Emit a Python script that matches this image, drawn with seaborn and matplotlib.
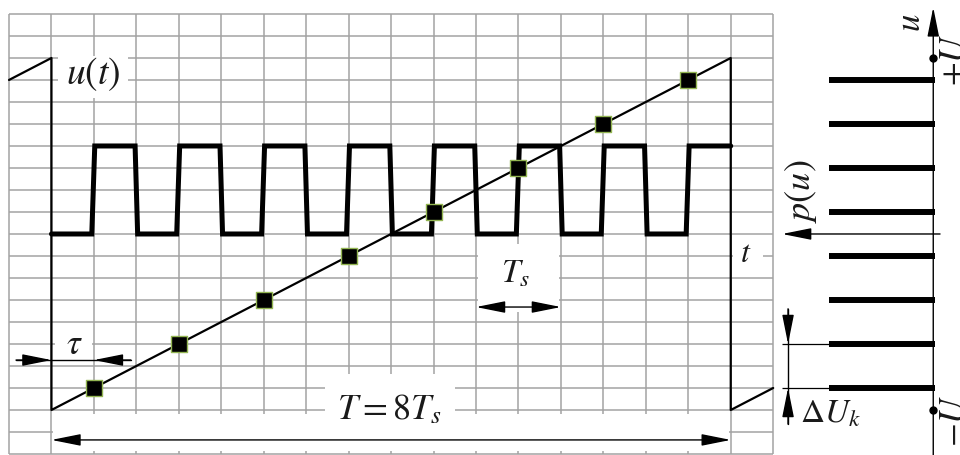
import numpy as np
import matplotlib
matplotlib.use("Agg")
import matplotlib.pyplot as plt
from matplotlib.patches import Rectangle
import seaborn as sns

# --- data (grid units: x = columns of the time grid, y = rows of the level grid) ---
# sawtooth u(t): one period T = 8 Ts plus stubs of the neighbouring periods
ramp_t = [0, 1, 1, 17, 17, 18]
ramp_u = [17, 18, 2, 18, 2, 3]

# sampling instants and the sampled values of u(t)
sample_t = [2, 4, 6, 8, 10, 12, 14, 16]
sample_u = [3, 5, 7, 9, 11, 13, 15, 17]

# clock pulses (start of each pulse), low / high level
pulse_start = [2, 4, 6, 8, 10, 12, 14, 16]
pulse_width = 1
clock_low = 10
clock_high = 14

# quantisation levels and their probability p(u)
levels = [3, 5, 7, 9, 11, 13, 15, 17]
p_levels = [1 / 8] * 8
u_min = 2
u_max = 18

# --- style ---
sns.set_style("white")
plt.rcParams["mathtext.fontset"] = "stix"
plt.rcParams["font.family"] = ["STIXGeneral", "DejaVu Serif"]

GRID_COLOR = "#a3a3a3"
TEXT_COLOR = "#1a1a1a"

fig = plt.figure(figsize=(9.6, 4.56), dpi=100)
ax = fig.add_axes([0, 0, 1, 1])
ax.set_xlim(-0.212, 22.40)
ax.set_ylim(-0.045, 20.68)
ax.axis("off")

# grid paper
ax.vlines(np.arange(0, 19), 0, 20, color=GRID_COLOR, lw=1.1, zorder=1)
ax.hlines(np.arange(0, 21), 0, 18, color=GRID_COLOR, lw=1.1, zorder=1)

# white label boxes cut out of the grid
def blank(x0, y0, x1, y1):
    ax.add_patch(Rectangle((x0, y0), x1 - x0, y1 - y0, facecolor="white",
                           edgecolor="none", zorder=2))

blank(1.15, 16.2, 2.8, 18.1)     # u(t)
blank(1.08, 4.45, 1.95, 5.6)     # tau
blank(17.05, 8.6, 17.75, 9.7)    # t
blank(11.05, 6.45, 12.95, 9.55)  # Ts
blank(7.45, 0.15, 10.5, 3.64)    # T = 8Ts
blank(1.03, 0.15, 16.97, 1.8)    # band under the ramp

# clock signal (slightly sloped edges)
clk_t = [1]
clk_u = [clock_low]
for s in pulse_start:
    e = s + pulse_width
    clk_t += [s - 0.05, s + 0.02, e - 0.03, e + 0.03]
    clk_u += [clock_low, clock_high, clock_high, clock_low]
clk_t = clk_t[:-2] + [pulse_start[-1] + pulse_width]
clk_u = clk_u[:-2] + [clock_high]
sns.lineplot(x=clk_t, y=clk_u, sort=False, estimator=None, color="black",
             lw=3.6, solid_joinstyle="miter", ax=ax, zorder=3)

# sawtooth and its samples
sns.lineplot(x=ramp_t, y=ramp_u, sort=False, estimator=None, color="black",
             lw=1.6, ax=ax, zorder=4)
sns.scatterplot(x=sample_t, y=sample_u, marker="s", s=130, color="black",
                edgecolor="#93b552", linewidth=1.0, ax=ax, zorder=6)

# arrows
def arrow(x0, y0, x1, y1, style="-|>"):
    ax.annotate("", xy=(x1, y1), xytext=(x0, y0), zorder=5,
                arrowprops=dict(arrowstyle=style + ",head_length=1.8,head_width=0.36",
                                mutation_scale=10, lw=1.0, color="black",
                                shrinkA=0, shrinkB=0))

# tau
ax.plot([0.165, 2.87], [4.27, 4.27], color="black", lw=1.0, zorder=5)
arrow(0.165, 4.27, 1.0, 4.27)
arrow(2.87, 4.27, 2.0, 4.27)
# Ts and T
arrow(11.0, 6.68, 13.0, 6.68, "<|-|>")
arrow(1.0, 0.64, 17.0, 0.64, "<|-|>")

# --- p(u) panel ---
axis_x = 21.77
bar_scale = 19.7
ax.hlines(levels, axis_x - np.array(p_levels) * bar_scale, axis_x + 0.03,
          color="black", lw=4.3, zorder=4)
arrow(axis_x, -0.05, axis_x, 20.3)
arrow(21.93, 10.0, 18.21, 10.0)
ax.plot([axis_x, axis_x], [u_max, u_min], "o", color="black", ms=5, zorder=6)

# Delta U_k dimension
ax.hlines([levels[1], levels[0]], 18.2, 19.34, color="black", lw=0.9, zorder=4)
ax.plot([18.35, 18.35], [6.6, 1.36], color="black", lw=1.0, zorder=4)
arrow(18.35, 6.6, 18.35, levels[1])
arrow(18.35, 1.36, 18.35, levels[0])

# --- labels ---
def label(x, y, s, size=24, rot=0):
    ax.text(x, y, s, fontsize=size, ha="center", va="center", rotation=rot,
            color=TEXT_COLOR, zorder=7)

label(1.98, 17.3, r"$u(t)$", 27)
label(1.53, 4.95, r"$\tau$", 25)
label(17.36, 9.1, r"$t$", 23)
label(11.92, 8.2, r"$T_s$", 24)
label(8.97, 2.05, r"$T=8T_s$", 26)
label(21.27, 19.65, r"$u$", 25, 90)
label(22.30, 17.95, r"$+U$", 25, 90)
label(22.30, 1.55, r"$-U$", 25, 90)
label(18.66, 12.0, r"$p(u)$", 26, 90)
label(19.36, 1.85, r"$\Delta U_k$", 24)

fig.savefig("out.png", dpi=100)
